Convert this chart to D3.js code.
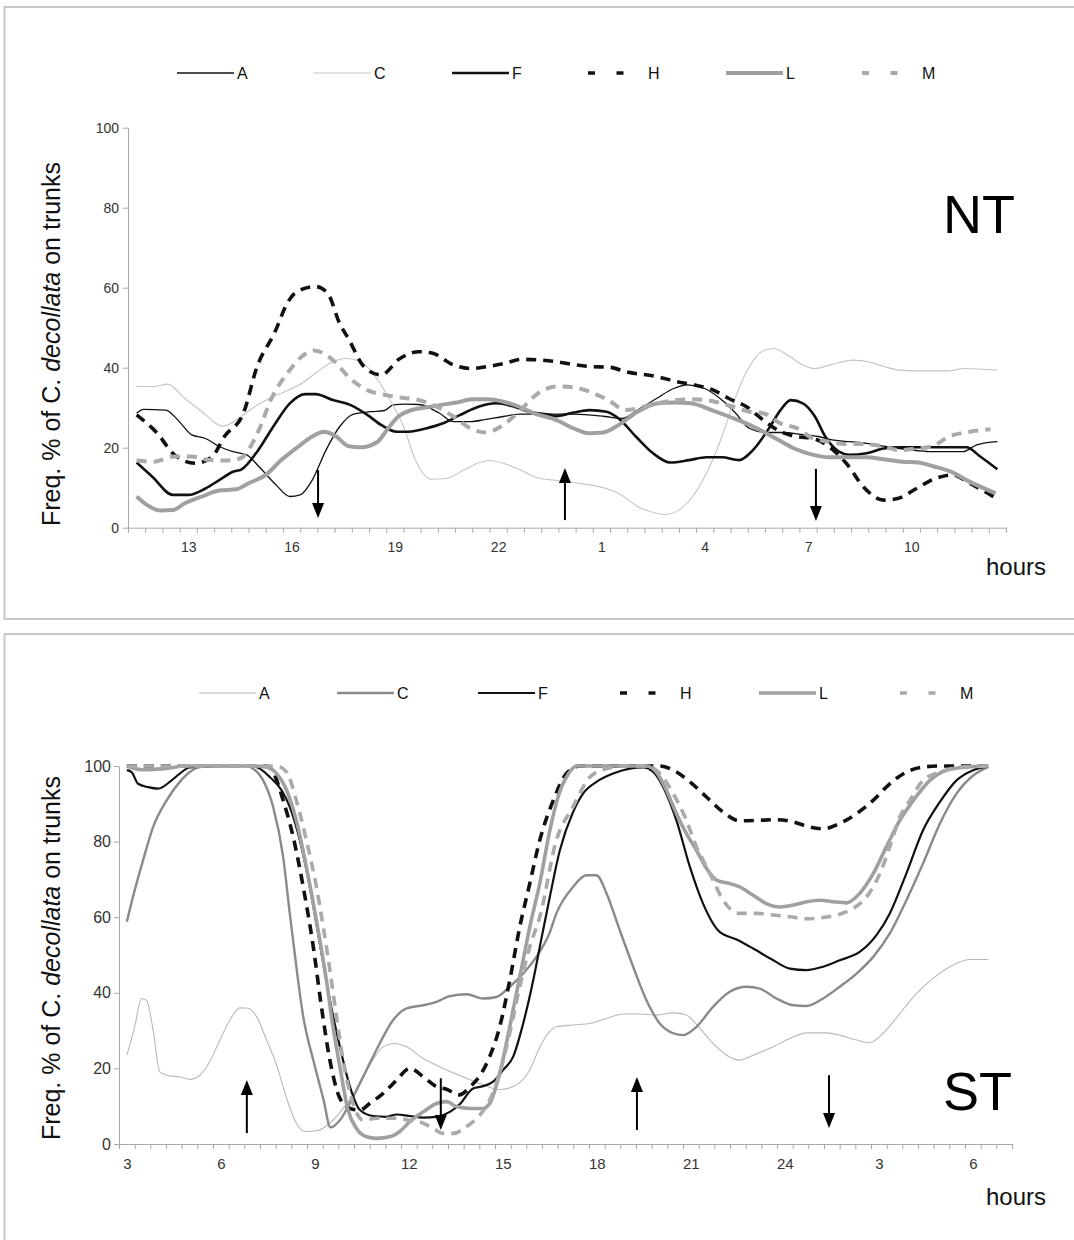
<!DOCTYPE html>
<html>
<head>
<meta charset="utf-8">
<script src="https://cdn.jsdelivr.net/npm/d3@7"></script>
<style>
  body { margin: 0; background: #fff; }
  svg { display: block; font-family: "Liberation Sans", Arial, sans-serif; }
</style>
</head>
<body>
<script>
// ---------------- data (hour since midnight of day 1, % on trunks) ----------------
var seriesNames = ["A", "C", "F", "H", "L", "M"];
var yTicks = [0, 20, 40, 60, 80, 100];

// NT panel
var ntTickHours = [13, 16, 19, 22, 25, 28, 31, 34];
var ntTickLabels = ["13", "16", "19", "22", "1", "4", "7", "10"];
var ntArrows = [[16.77, 14.4, 2.4], [23.94, 1.9, 14.9], [31.23, 14.7, 1.7]]; // hour, from, to

var ntA = [[11.5,28.6],[11.7,29.6],[12.35,29.4],[12.7,26.9],[13.1,23.2],[13.5,22.3],[13.9,20.3],[14.3,19],[14.7,18.2],[15.05,15.3],[15.55,10.7],[15.95,7.8],[16.25,8.2],[16.6,11.9],[17.0,19.4],[17.4,25.3],[17.8,28.4],[18.3,29],[18.7,29.3],[18.95,30.7],[19.3,30.9],[19.7,30.8],[20.3,28.6],[20.7,26.5],[21.2,26.5],[21.65,27.1],[22.15,27.8],[22.65,28.4],[23.1,28.4],[23.7,28.4],[24.2,28.4],[25.1,27.8],[25.6,27.3],[26.05,29.4],[26.6,32.3],[27.1,34.8],[27.5,35.7],[28.0,34.8],[28.5,31.9],[28.9,28.6],[29.3,24.8],[29.8,23.8],[30.3,23.8],[30.8,23.3],[31.3,22.8],[31.75,21.9],[32.2,21.5],[32.7,21.1],[33.2,20.4],[33.65,19.8],[34.15,19.3],[34.6,19],[35.1,19],[35.5,19],[35.9,20.7],[36.5,21.5]];
var ntC = [[11.5,35.3],[12,35.3],[12.4,35.9],[12.9,32.3],[13.4,29],[14,25.4],[14.4,26.9],[14.85,29.8],[15.35,32.3],[15.8,34],[16.3,36.1],[16.75,39],[17.2,41.5],[17.6,42.3],[18,41.5],[18.4,38.2],[18.8,32.8],[19.25,25.3],[19.6,16.9],[20.05,12.1],[20.5,12.3],[21,14.4],[21.4,16.1],[21.75,16.8],[22.15,16.1],[22.65,14.4],[23.1,12.6],[23.7,11.8],[24.2,11.3],[24.65,10.7],[25.15,9.8],[25.65,7.8],[26.05,5.3],[26.6,3.6],[26.85,3.3],[27.25,4.4],[27.65,7.8],[28.05,13.6],[28.5,22.8],[28.9,32.8],[29.3,40.3],[29.65,44],[30,44.8],[30.4,43.2],[30.85,40.7],[31.2,39.8],[31.65,40.7],[32.3,41.9],[32.75,41.5],[33.2,40.3],[33.65,39.4],[34.15,39.2],[35.05,39.2],[35.55,39.8],[36.5,39.4]];
var ntF = [[11.5,16.3],[11.95,12.8],[12.55,8.2],[13,8.2],[13.5,9.8],[13.9,11.9],[14.3,14],[14.55,14.6],[15,19],[15.5,25.7],[15.95,31.1],[16.4,33.4],[16.7,33.4],[17.2,31.9],[17.7,30.7],[18.2,28.2],[18.6,25.7],[19.05,24],[19.4,24],[19.9,24.8],[20.4,26.1],[20.9,28.2],[21.45,30.3],[21.95,31.1],[22.45,30.3],[22.9,29],[23.5,28.2],[23.7,27.9],[24.2,28.8],[24.65,29.4],[25.15,29],[25.5,27.3],[26,22.8],[26.5,18.6],[27,16.3],[27.55,16.9],[28.05,17.6],[28.5,17.6],[29,16.9],[29.4,19.4],[29.9,25.3],[30.2,29.4],[30.5,31.9],[30.85,31.1],[31.2,27.8],[31.5,22.8],[31.9,19],[32.2,18.2],[32.7,18.6],[33.2,19.8],[33.65,20.1],[34.6,20.1],[35.6,20.1],[36,17.8],[36.5,14.6]];
var ntH = [[11.5,28.2],[12.1,23.6],[12.6,18.2],[13.2,16.1],[13.7,17.8],[14.05,22.8],[14.6,28.6],[15.0,40.3],[15.5,48.6],[15.9,56.5],[16.15,59],[16.7,60.3],[17.05,58.6],[17.4,51],[17.65,47.3],[18.1,40.3],[18.6,38.2],[19.15,42.3],[19.7,44],[20.1,43.6],[20.7,40.7],[21.2,39.8],[21.7,40.3],[22.15,41],[22.7,42.1],[23.1,42],[23.7,41.5],[24.2,40.8],[24.65,40.3],[25.25,40.1],[25.7,39],[26.6,37.8],[27.2,36.5],[27.7,35.7],[28.25,34.4],[28.7,32.3],[29.2,30.3],[29.7,26.9],[30.2,24],[30.65,22.8],[31.15,22.3],[31.6,20.3],[32.15,15.7],[32.6,10.3],[33.2,6.9],[33.6,7.3],[34.15,9.8],[34.7,12.3],[35.2,13.2],[35.7,11.1],[36.4,7.7]];
var ntL = [[11.5,7.8],[11.8,5.7],[12.2,4.3],[12.55,4.4],[12.9,6.1],[13.4,7.8],[13.9,9.3],[14.4,9.6],[14.75,11.1],[15.25,13.2],[15.7,16.9],[16.2,20.3],[16.6,22.8],[16.95,24],[17.3,22.8],[17.65,20.4],[18,20.1],[18.5,21.5],[18.8,24.8],[19.1,27.8],[19.45,29.3],[19.95,30.1],[20.35,30.7],[20.8,31.3],[21.25,32.1],[21.7,32.1],[22.15,31.5],[22.6,30.3],[23.05,28.6],[23.7,26.9],[24.2,24.8],[24.65,23.6],[25.05,23.8],[25.5,25.7],[26.05,29],[26.65,31.1],[27.1,31.3],[27.6,31.1],[28.2,29.4],[28.7,27.8],[29.3,25.7],[29.7,24],[30.15,21.9],[30.6,19.8],[31.15,18.2],[31.6,17.6],[32.1,17.6],[32.7,17.6],[33.2,17.1],[33.75,16.5],[34.2,16.3],[34.65,15.3],[35.15,14],[35.6,11.9],[36.45,8.6]];
var ntM = [[11.5,16.8],[12,16.5],[12.6,17.8],[13.1,17.8],[13.6,16.9],[14.1,16.8],[14.5,17.3],[15.05,24.4],[15.4,32],[15.95,39.4],[16.3,42.8],[16.65,44.3],[17,43.2],[17.25,41.5],[17.7,37.3],[18.2,34.4],[18.7,33.2],[19.2,32.5],[19.7,31.9],[20.2,30.3],[20.7,27.8],[21.2,24.8],[21.65,23.8],[22.15,25.7],[22.65,29.4],[23.1,33.2],[23.7,35.3],[24.2,35.1],[24.65,34],[25.2,31.9],[25.7,29.4],[26.6,31.1],[27.2,31.9],[27.7,32.1],[28.3,31.5],[28.8,30.3],[29.3,29],[29.7,28.6],[30.2,26.1],[30.7,24.8],[31.15,22.3],[31.6,21.5],[32.1,20.9],[32.6,20.9],[33.2,20.3],[33.65,19.4],[34.15,19.8],[34.6,20.3],[35.1,22.8],[35.7,24],[36.3,24.6]];

// ST panel
var stTickHours = [3, 6, 9, 12, 15, 18, 21, 24, 27, 30];
var stTickLabels = ["3", "6", "9", "12", "15", "18", "21", "24", "3", "6"];
var stArrows = [[6.83, 2.9, 16.9], [13.02, 17.4, 3.7], [19.28, 3.7, 17.7], [25.41, 18.2, 4.2]];

var stA = [[3,23.5],[3.25,31],[3.47,38.5],[3.63,38],[3.84,30.1],[4.05,19.1],[4.37,18],[4.69,17.8],[5.01,17.1],[5.33,18.2],[5.65,21.8],[5.97,27.5],[6.29,32.8],[6.61,36],[6.87,35.9],[7.14,33.7],[7.46,27.5],[7.78,20.9],[8.1,12.1],[8.41,5.5],[8.68,3.3],[9.05,3.5],[9.48,5.5],[9.9,9.4],[10.33,14.3],[10.75,20.9],[11.18,25.7],[11.55,26.6],[11.93,25.7],[12.46,22.6],[13.1,20],[13.73,17.8],[14.27,16],[14.9,14.4],[15.33,15.2],[15.86,19.6],[16.2,26],[16.71,31],[17.24,31.5],[17.78,31.9],[18.31,33.2],[18.84,34.4],[19.37,34.4],[19.9,34.1],[20.44,34.7],[20.86,34.1],[21.29,30.6],[21.71,26.6],[22.14,23.5],[22.56,22.2],[22.99,23.5],[23.63,25.7],[24.16,27.9],[24.69,29.4],[25.33,29.4],[25.75,28.8],[26.29,27.5],[26.71,26.8],[27.14,29.3],[27.67,34.5],[28.2,39.8],[28.73,43.8],[29.27,46.9],[29.9,48.8],[30.49,48.8]];
var stC = [[3,58.8],[3.25,67.1],[3.52,75.1],[3.84,83.9],[4.27,90.9],[4.69,95.8],[5.01,98.4],[5.33,99.7],[6.0,100],[6.82,100],[7.03,99.3],[7.35,96.2],[7.67,89.2],[7.99,75.9],[8.2,61],[8.41,46.9],[8.63,33.7],[8.95,22.2],[9.27,12],[9.5,4.4],[9.8,6.3],[10.22,12.5],[10.65,19.6],[11.07,26.6],[11.5,32.8],[11.93,35.9],[12.46,36.7],[12.88,37.6],[13.31,39.1],[13.84,39.6],[14.37,38.5],[14.8,38.9],[15.22,41.6],[15.65,45.1],[16.07,49.5],[16.5,56],[16.71,61],[17.24,68],[17.67,71.1],[17.99,71.1],[18.31,66.3],[18.73,56.6],[19.16,46.9],[19.58,38.1],[20.01,31.9],[20.44,29.3],[20.75,28.8],[21.18,31],[21.71,36.3],[22.24,40.3],[22.78,41.6],[23.2,41.1],[23.73,38.5],[24.27,36.7],[24.69,36.5],[25.22,38.5],[25.75,41.6],[26.29,45.1],[26.82,49.5],[27.35,55.7],[27.88,64.5],[28.41,74.2],[28.95,84.8],[29.48,92.7],[30.01,97.5],[30.49,99.7]];
var stF = [[3,98.9],[3.15,98.4],[3.36,95.3],[3.68,94.4],[4.0,94],[4.37,95.8],[4.69,98],[5.01,99.6],[6,100],[6.93,100],[7.24,99.3],[7.56,97.1],[7.94,93.6],[8.2,89.2],[8.52,80.4],[8.84,68],[9.16,53],[9.48,38.1],[9.8,25.7],[10.12,15.2],[10.44,9],[10.86,7.4],[11.29,7.2],[11.61,7.8],[12.03,7.4],[12.46,7],[12.88,7.2],[13.31,8.5],[13.63,10.6],[14.05,14.7],[14.37,15.3],[14.69,16.5],[15.01,19.6],[15.33,23.1],[15.65,31.9],[15.97,43.3],[16.2,53],[16.5,65.4],[16.82,77.7],[17.24,87.8],[17.56,92.7],[17.99,95.8],[18.52,98],[19.05,99.3],[19.48,99.6],[19.8,98.4],[20.12,94.4],[20.54,85.6],[20.97,73.3],[21.39,63.6],[21.92,56.1],[22.46,54.1],[22.99,51.7],[23.63,48.6],[24.16,46.4],[24.69,46],[25.22,46.9],[25.75,48.6],[26.39,50.8],[26.93,55.3],[27.35,61],[27.88,71.6],[28.41,83],[28.95,90.5],[29.48,96.2],[30.01,98.9],[30.49,99.9]];
var stH = [[3,100],[7.46,100],[7.67,98.4],[7.99,90.9],[8.31,81.2],[8.63,68],[8.95,52.2],[9.21,36.3],[9.48,22.2],[9.8,12.1],[10.12,9.4],[10.44,9],[10.75,10.7],[11.18,13.4],[11.61,16.9],[12.03,20],[12.46,17.8],[12.88,15.2],[13.2,14.5],[13.6,13],[14.0,15.5],[14.3,18.5],[14.58,23.1],[14.9,31],[15.22,43.3],[15.54,57.4],[15.86,68.9],[16.18,80.4],[16.61,90.9],[17.03,98],[17.46,100],[20.01,100],[20.44,98.9],[20.97,95.8],[21.5,91.8],[22.03,87.8],[22.56,85.5],[23.1,85.6],[23.73,85.8],[24.27,85.2],[24.69,84.1],[25.22,83.4],[25.75,84.8],[26.29,87.4],[26.82,90.9],[27.35,95.3],[27.88,98.4],[28.41,99.7],[28.95,100],[30.49,100]];
var stL = [[3,100],[3.52,99],[4.2,99.3],[4.9,100],[6.93,100],[7.46,99.7],[7.78,98],[8.1,93.6],[8.41,85.6],[8.73,73.3],[9.05,59.2],[9.37,43.3],[9.58,31],[9.8,20.4],[10.06,9],[10.33,4.1],[10.65,1.9],[10.97,1.5],[11.39,1.9],[11.71,3.3],[12.03,5.9],[12.46,8.5],[12.88,10.7],[13.2,11.2],[13.52,9.9],[13.95,9.4],[14.37,9.4],[14.58,10.7],[14.9,18.7],[15.22,31],[15.54,44.2],[15.86,57.4],[16.18,69],[16.5,83],[16.77,92],[17.1,98],[17.35,100],[19.58,100],[19.9,98.4],[20.22,93.6],[20.54,87.4],[20.86,82.1],[21.18,77.7],[21.5,72.9],[21.82,69.8],[22.24,68.9],[22.56,68],[22.99,65.8],[23.41,63.6],[23.84,62.7],[24.27,63.2],[24.69,64.1],[25.12,64.5],[25.54,64.1],[25.97,63.8],[26.39,66.3],[26.82,71.5],[27.24,78.6],[27.67,85.6],[28.1,90.9],[28.63,96.2],[29.16,98.9],[29.8,99.7],[30.49,100]];
var stM = [[3,100],[7.78,100],[8.1,98.4],[8.41,90.9],[8.73,80.4],[9.05,68],[9.27,57.4],[9.48,46],[9.69,33.7],[9.9,22.2],[10.22,10.7],[10.54,6.3],[10.97,6.8],[11.5,6.8],[12.03,6.3],[12.46,5.5],[12.78,4.1],[13.1,2.8],[13.41,2.8],[13.84,4.6],[14.27,7.7],[14.58,11.6],[14.9,18.7],[15.22,29.3],[15.54,41.6],[15.86,52.2],[16.18,60.1],[16.71,80.4],[17.24,89.2],[17.78,97.1],[18.31,99.3],[18.84,100],[19.58,100],[20.01,98],[20.44,92.7],[20.86,85.6],[21.18,78.6],[21.39,75.1],[21.71,69.8],[22.03,64.5],[22.56,61],[23.1,61],[23.63,60.6],[24.16,60.1],[24.69,59.6],[25.22,59.9],[25.75,60.8],[26.18,62.3],[26.61,65.4],[27.03,71.5],[27.35,78.6],[27.67,86.5],[27.99,90.9],[28.41,96.2],[28.95,98.4],[29.59,99.7],[30.49,100]];

// ---------------- line styles (not data) ----------------
var ntStyles = [
	{color: "#111", width: 1.3, dash: null},
	{color: "#c4c4c4", width: 1.1, dash: null},
	{color: "#111", width: 2.6, dash: null},
	{color: "#111", width: 3.6, dash: "10,7"},
	{color: "#a0a0a0", width: 4, dash: null},
	{color: "#aaaaaa", width: 4, dash: "10,7"}
];
var stStyles = [
	{color: "#b8b8b8", width: 1.1, dash: null},
	{color: "#8a8a8a", width: 2.4, dash: null},
	{color: "#111", width: 2.2, dash: null},
	{color: "#111", width: 3.6, dash: "10,7"},
	{color: "#a0a0a0", width: 3.6, dash: null},
	{color: "#aaaaaa", width: 3.6, dash: "10,7"}
];

var svg = d3.select("body").append("svg")
	.attr("width", 1074)
	.attr("height", 1240);

// panel frames
svg.append("rect").attr("x", 4.5).attr("y", 7).attr("width", 1100).attr("height", 612)
	.attr("fill", "none").attr("stroke", "#c8c8c8").attr("stroke-width", 2);
svg.append("rect").attr("x", 4.5).attr("y", 634).attr("width", 1100).attr("height", 640)
	.attr("fill", "none").attr("stroke", "#c8c8c8").attr("stroke-width", 2);

//--------------------------------drawPanel()-----------------------------------
function drawPanel(cfg) {
	var x = d3.scaleLinear().domain(cfg.xDomain).range([cfg.left, cfg.right]);
	var y = d3.scaleLinear().domain([0, 100]).range([cfg.bottom, cfg.top]);
	var g = svg.append("g");

	// category ticks every half hour
	var edges = d3.range(cfg.xDomain[0], cfg.xDomain[1] + 0.01, 0.5);
	var xAxis = g.append("g")
		.attr("transform", "translate(0," + cfg.bottom + ")")
		.call(d3.axisBottom(x).tickValues(edges).tickSize(5).tickSizeOuter(0).tickFormat(""));
	xAxis.selectAll("line, path").attr("stroke", "#a8a8a8");

	var xLabels = g.append("g")
		.attr("transform", "translate(0," + cfg.bottom + ")")
		.call(d3.axisBottom(x).tickValues(cfg.tickHours).tickSize(0).tickPadding(cfg.labelPad)
			.tickFormat(function(d, i) { return cfg.tickLabels[i]; }));
	xLabels.select(".domain").remove();
	xLabels.selectAll("text").attr("font-size", cfg.tickFont).attr("fill", "#333")
		.attr("font-family", "Liberation Sans, Arial, sans-serif");

	var yAxis = g.append("g")
		.attr("transform", "translate(" + cfg.left + ",0)")
		.call(d3.axisLeft(y).tickValues(yTicks).tickSize(5).tickSizeOuter(0).tickPadding(cfg.yPad));
	yAxis.selectAll("line, path").attr("stroke", "#a8a8a8");
	yAxis.selectAll("text").attr("font-size", cfg.yTickFont).attr("fill", "#333")
		.attr("font-family", "Liberation Sans, Arial, sans-serif");

	// lines
	var line = d3.line()
		.x(function(d) { return x(d[0]); })
		.y(function(d) { return y(d[1]); })
		.curve(d3.curveMonotoneX);

	cfg.series.forEach(function(s, i) {
		var st = cfg.styles[i];
		g.append("path")
			.datum(s)
			.attr("d", line)
			.attr("fill", "none")
			.attr("stroke", st.color)
			.attr("stroke-width", st.width)
			.attr("stroke-dasharray", st.dash)
			.attr("stroke-linejoin", "round");
	});

	// arrows
	cfg.arrows.forEach(function(a) {
		var ax = x(a[0]), y0 = y(a[1]), y1 = y(a[2]);
		var dir = y1 > y0 ? 1 : -1;
		g.append("line").attr("x1", ax).attr("x2", ax).attr("y1", y0).attr("y2", y1 - dir * 10)
			.attr("stroke", "#000").attr("stroke-width", 2);
		g.append("path")
			.attr("d", "M" + (ax - 6) + "," + (y1 - dir * 15) + "L" + (ax + 6) + "," + (y1 - dir * 15) + "L" + ax + "," + y1 + "Z")
			.attr("fill", "#000");
	});

	// y title
	var title = g.append("text")
		.attr("transform", "translate(" + cfg.titleX + "," + cfg.titleY + ") rotate(-90)")
		.attr("text-anchor", "middle")
		.attr("font-size", 25)
		.attr("fill", "#111");
	title.append("tspan").text("Freq. % of C. ");
	title.append("tspan").attr("font-style", "italic").text("decollata");
	title.append("tspan").text(" on trunks");

	// panel tag and unit
	g.append("text").attr("x", 943).attr("y", cfg.tagY).attr("font-size", 54).attr("fill", "#000").text(cfg.tag);
	g.append("text").attr("x", 986).attr("y", cfg.hoursY).attr("font-size", 24).attr("fill", "#111").text("hours");

	// legend
	cfg.legendX.forEach(function(lx, i) {
		var st = cfg.styles[i];
		var ln = g.append("line")
			.attr("x1", lx).attr("x2", lx + 57)
			.attr("y1", cfg.legendY).attr("y2", cfg.legendY)
			.attr("stroke", st.color)
			.attr("stroke-width", st.width);
		if (st.dash) ln.attr("stroke-dasharray", "7,21.5");
		g.append("text").attr("x", lx + 60).attr("y", cfg.legendY + 6)
			.attr("font-size", 16).attr("fill", "#111").text(seriesNames[i]);
	});
}

drawPanel({
	xDomain: [11.25, 36.75], left: 128, right: 1006, top: 127.7, bottom: 527.7,
	tickHours: ntTickHours, tickLabels: ntTickLabels, labelPad: 14, tickFont: 14, yTickFont: 14, yPad: 4,
	series: [ntA, ntC, ntF, ntH, ntL, ntM], styles: ntStyles, arrows: ntArrows,
	titleX: 60, titleY: 344, tag: "NT", tagY: 233, hoursY: 575,
	legendX: [177, 314, 452, 588, 726, 862], legendY: 73
});

drawPanel({
	xDomain: [2.75, 31.25], left: 119, right: 1012, top: 766, bottom: 1144,
	tickHours: stTickHours, tickLabels: stTickLabels, labelPad: 14, tickFont: 15, yTickFont: 16, yPad: 3,
	series: [stA, stC, stF, stH, stL, stM], styles: stStyles, arrows: stArrows,
	titleX: 60, titleY: 958, tag: "ST", tagY: 1110, hoursY: 1205,
	legendX: [199, 337, 478, 620, 759, 900], legendY: 693
});
</script>
</body>
</html>
